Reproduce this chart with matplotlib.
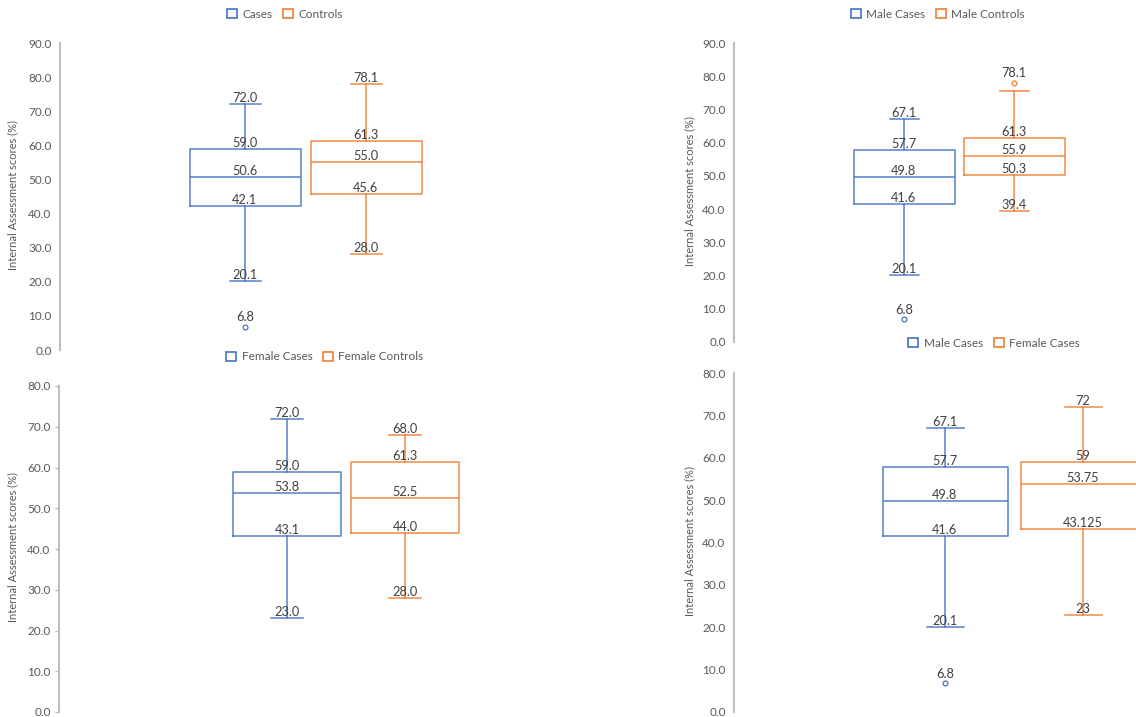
import matplotlib
matplotlib.use('Agg')
import matplotlib.pyplot as plt
from matplotlib.patches import Patch

plt.rcParams['font.family'] = ['Lato', 'DejaVu Sans']

BLUE = '#4472C4'
ORANGE = '#ED7D31'
TEXT = '#404040'
GREY = '#595959'
YLABEL = 'Internal Assessment scores (%)'

# top left: all students
tl_names = ['Cases', 'Controls']
tl_whislo = [20.1, 28.0]
tl_q1 = [42.1, 45.6]
tl_med = [50.6, 55.0]
tl_q3 = [59.0, 61.3]
tl_whishi = [72.0, 78.1]
tl_fliers = [[6.8], []]

# top right: males
tr_names = ['Male Cases', 'Male Controls']
tr_whislo = [20.1, 39.4]
tr_q1 = [41.6, 50.3]
tr_med = [49.8, 55.9]
tr_q3 = [57.7, 61.3]
tr_whishi = [67.1, 75.6]
tr_fliers = [[6.8], [78.1]]

# bottom left: females
bl_names = ['Female Cases', 'Female Controls']
bl_whislo = [23.0, 28.0]
bl_q1 = [43.1, 44.0]
bl_med = [53.8, 52.5]
bl_q3 = [59.0, 61.3]
bl_whishi = [72.0, 68.0]
bl_fliers = [[], []]

# bottom right: male vs female cases
br_names = ['Male Cases', 'Female Cases']
br_whislo = [20.1, 23]
br_q1 = [41.6, 43.125]
br_med = [49.8, 53.75]
br_q3 = [57.7, 59]
br_whishi = [67.1, 72]
br_fliers = [[6.8], []]

W, H = 1136, 717
fig = plt.figure(figsize=(W / 100, H / 100), dpi=100)
fig.patch.set_facecolor('white')


def px_axes(x0, y_top, y_bot, right):
    # axes placed by pixel coords (y measured from top of image)
    ax = fig.add_axes([x0 / W, (H - y_bot) / H, (right - x0) / W, (y_bot - y_top) / H])
    ax.set_xlim(0, right - x0)
    return ax


def panel(x0, y_top, y_bot, ymax, centers, box_w, cap_w, names, whislo, q1, med, q3, whishi, fliers,
          leg_xy, ylab_x, fmts=('{:.1f}', '{:.1f}'), label_hi=(True, True), ticks=False, right=None):
    if right is None:
        right = x0 + 560
    ax = px_axes(x0, y_top, y_bot, right)
    ax.set_ylim(0, ymax)
    for i, c in enumerate([BLUE, ORANGE]):
        st = dict(med=med[i], q1=q1[i], q3=q3[i], whislo=whislo[i], whishi=whishi[i],
                  fliers=fliers[i], label=names[i])
        pos = centers[i] - x0
        lp = dict(color=c, lw=1.1, alpha=0.9)
        ax.bxp([st], positions=[pos], widths=[box_w], capwidths=[cap_w],
               boxprops=lp, whiskerprops=lp, capprops=lp, medianprops=lp,
               flierprops=dict(marker='o', mfc='none', mec=c, ms=3.5, mew=0.9),
               manage_ticks=False)
        vals = [whislo[i], q1[i], med[i], q3[i]]
        if label_hi[i]:
            vals.append(whishi[i])
        for v in vals:
            ax.annotate(fmts[i].format(v), (pos, v), xytext=(0, 0), textcoords='offset points',
                        ha='center', va='bottom', fontsize=9.2, color=TEXT)
        for v in fliers[i]:
            ax.annotate(fmts[i].format(v), (pos, v), xytext=(0, 2.5), textcoords='offset points',
                        ha='center', va='bottom', fontsize=9.2, color=TEXT)

    for s in ['top', 'right', 'bottom']:
        ax.spines[s].set_visible(False)
    ax.spines['left'].set_color('#BFBFBF')
    ax.spines['left'].set_linewidth(1.5)
    ax.set_xticks([])
    ax.set_yticks(range(0, int(ymax) + 1, 10))
    ax.set_yticklabels(['{:.1f}'.format(t) for t in range(0, int(ymax) + 1, 10)])
    if ticks:
        ax.tick_params(axis='y', length=3, width=1, color='#BFBFBF', pad=3, labelsize=8.5, labelcolor=GREY)
    else:
        ax.tick_params(axis='y', length=0, pad=6, labelsize=8.5, labelcolor=GREY)
    ax.patch.set_alpha(0)

    fig.text(ylab_x / W, 1 - ((y_top + y_bot) / 2 - 2) / H, YLABEL, rotation=90,
             ha='center', va='center', fontsize=8, color=GREY)

    handles = [Patch(facecolor='none', edgecolor=c, lw=1.2, label=n) for c, n in zip([BLUE, ORANGE], names)]
    fig.legend(handles=handles, loc='center', bbox_to_anchor=(leg_xy[0] / W, 1 - leg_xy[1] / H),
               ncol=2, frameon=False, fontsize=8.5, handlelength=0.85, handleheight=0.85,
               handletextpad=0.45, columnspacing=0.9, labelcolor=GREY, borderpad=0, borderaxespad=0)
    return ax


panel(60, 43, 350, 90, [245, 366], 111, 31, tl_names, tl_whislo, tl_q1, tl_med, tl_q3, tl_whishi,
      tl_fliers, (285, 14), 13)
panel(734, 43, 342, 90, [904, 1014], 101, 29, tr_names, tr_whislo, tr_q1, tr_med, tr_q3, tr_whishi,
      tr_fliers, (938, 14), 690, label_hi=(True, False), right=1136)
panel(59, 386, 712, 80, [287, 405], 108, 32, bl_names, bl_whislo, bl_q1, bl_med, bl_q3, bl_whishi,
      bl_fliers, (325, 357), 13, ticks=True)
panel(734, 373, 712, 80, [945, 1083], 125, 37, br_names, br_whislo, br_q1, br_med, br_q3, br_whishi,
      br_fliers, (994, 343), 690, fmts=('{:.1f}', '{:g}'), right=1200)

fig.savefig('out.png', dpi=100)
